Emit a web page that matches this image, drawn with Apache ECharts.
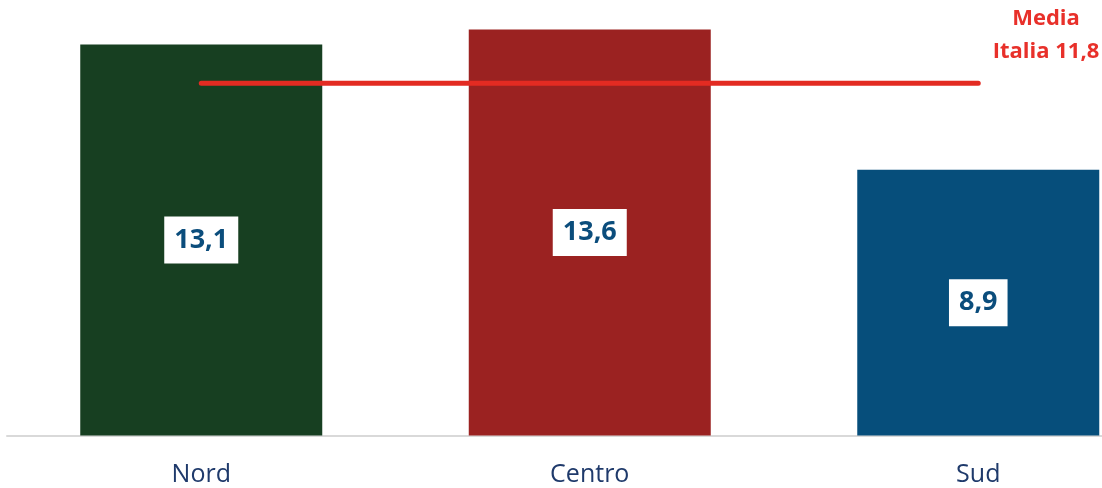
<!DOCTYPE html>
<html>
<head>
<meta charset="utf-8">
<script src="https://cdn.jsdelivr.net/npm/echarts@6/dist/echarts.min.js"></script>
<style>
html,body{margin:0;padding:0;background:#fff;}
#c{width:1102px;height:488px;}
</style>
</head>
<body>
<div id="c"></div>
<script>
var categories = ['Nord', 'Centro', 'Sud'];
var values = [13.1, 13.6, 8.9];
var mediaItalia = 11.8;
var mediaLines = ['Media', 'Italia 11,8'];

var barColors = ['#173f21', '#9b2221', '#064e7b'];

var chart = echarts.init(document.getElementById('c'), null, {renderer: 'canvas'});
var fmt = function (v) { return String(v).replace('.', ','); };
var idx = categories.map(function (c, i) { return i; });

chart.setOption({
  animation: false,
  grid: { left: 7, top: 17.6, right: 0, bottom: 52.5, containLabel: false },
  xAxis: {
    type: 'value',
    min: -0.5,
    max: 2.3185,
    axisLine: { show: true, onZero: false, lineStyle: { color: '#d9d9d9', width: 2 } },
    axisTick: { show: false },
    splitLine: { show: false },
    axisLabel: {
      customValues: idx,
      formatter: function (v) { return categories[Math.round(v)] || ''; },
      margin: 27,
      fontFamily: 'Open Sans',
      fontSize: 25,
      lineHeight: 25,
      color: '#1f3a6b'
    }
  },
  yAxis: {
    type: 'value',
    min: 0,
    max: 14,
    show: false,
    splitLine: { show: false }
  },
  series: [
    {
      type: 'bar',
      barWidth: 242,
      data: values.map(function (v, i) {
        return { value: [i, v], itemStyle: { color: barColors[i] } };
      }),
      label: {
        show: true,
        position: 'inside',
        formatter: function (p) { return fmt(p.value[1]); },
        backgroundColor: '#ffffff',
        padding: [9, 10, 8, 10],
        fontFamily: 'Open Sans',
        fontWeight: 'bold',
        fontSize: 27,
        lineHeight: 30,
        color: '#0b4d7c'
      }
    },
    {
      type: 'line',
      data: idx.map(function (i) { return [i, mediaItalia]; }),
      symbol: 'none',
      lineStyle: { color: '#e32b22', width: 5, cap: 'round' },
      z: 5
    }
  ],
  graphic: mediaLines.map(function (t, i) {
    return {
      type: 'text',
      x: 1046,
      y: 19 + i * 33,
      style: {
        text: t,
        align: 'center',
        verticalAlign: 'middle',
        fontFamily: 'Open Sans',
        fontWeight: 'bold',
        fontSize: 22,
        fill: '#e8302a'
      }
    };
  })
});
</script>
</body>
</html>
